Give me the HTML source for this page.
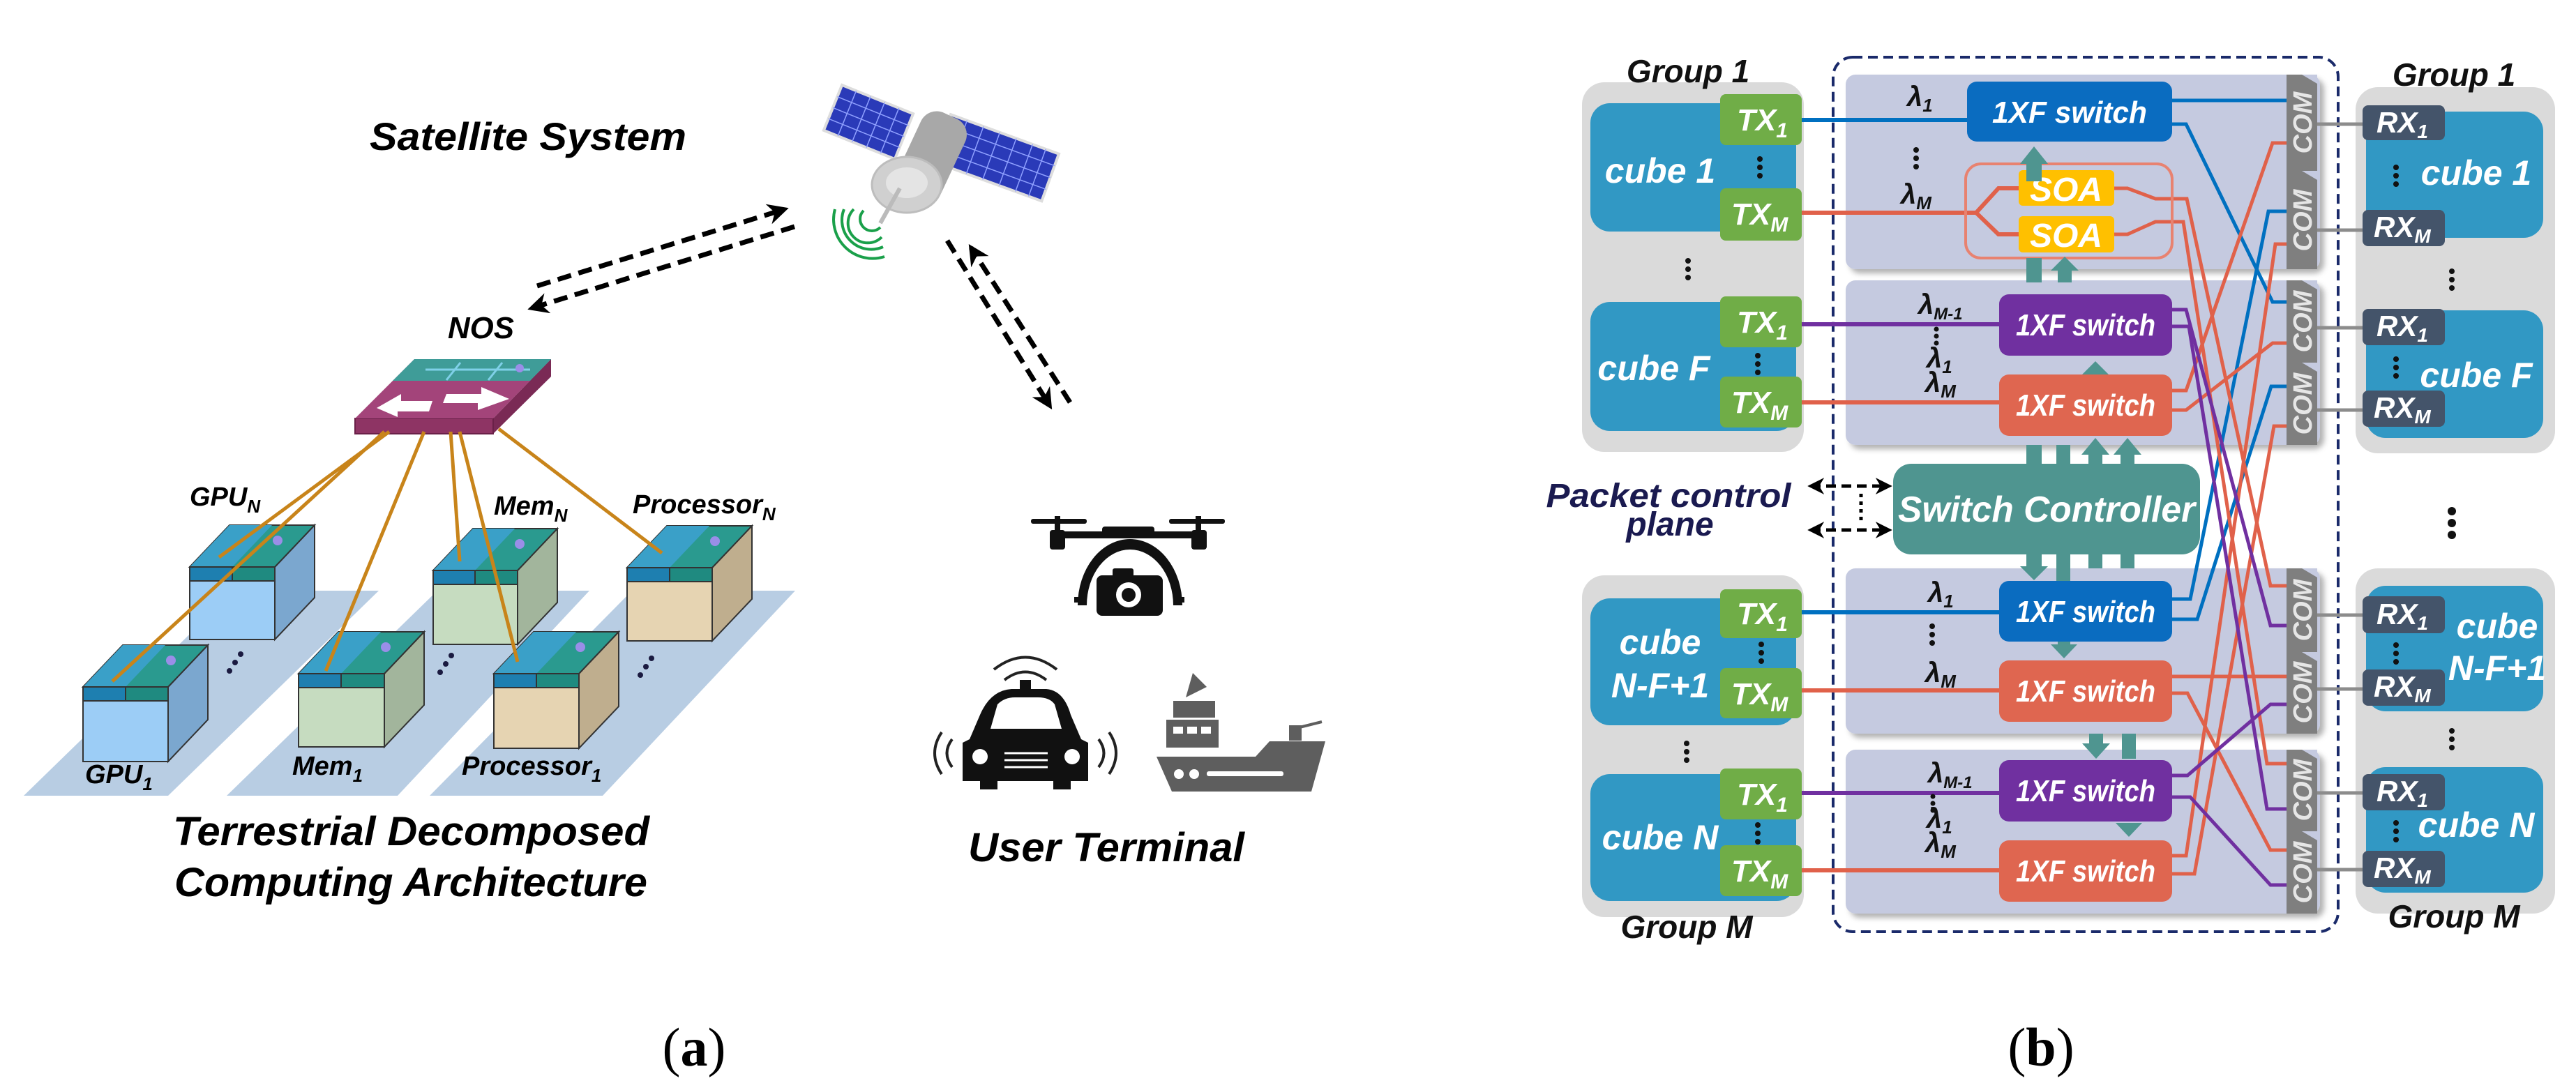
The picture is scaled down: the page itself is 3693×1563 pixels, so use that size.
<!DOCTYPE html>
<html><head><meta charset="utf-8"><style>
html,body{margin:0;padding:0;background:#fff}
svg{display:block}
text{font-family:"Liberation Sans",sans-serif;font-weight:bold;font-style:italic}
</style></head><body>
<svg width="3693" height="1563" viewBox="0 0 3693 1563" xmlns="http://www.w3.org/2000/svg">
<defs>
<marker id="ah" markerWidth="8" markerHeight="8" refX="6" refY="4" orient="auto" markerUnits="userSpaceOnUse" viewBox="0 0 8 8"><path d="M0,0 L8,4 L0,8 L2,4 Z" fill="#000"/></marker>
<marker id="ahb" viewBox="0 0 10 10" refX="8" refY="5" markerWidth="30" markerHeight="30" orient="auto" markerUnits="userSpaceOnUse"><path d="M0,0 L10,5 L0,10 L3,5 Z" fill="#000"/></marker>
<marker id="ahs" viewBox="0 0 10 10" refX="8" refY="5" markerWidth="24" markerHeight="24" orient="auto-start-reverse" markerUnits="userSpaceOnUse"><path d="M0,0 L10,5 L0,10 L3,5 Z" fill="#000"/></marker>
<filter id="sh" x="-5%" y="-5%" width="115%" height="115%"><feDropShadow dx="6" dy="6" stdDeviation="4" flood-color="#000" flood-opacity="0.3"/></filter>
</defs>

<!-- ================= (a) ================= -->
<text x="530" y="215" font-size="56" textLength="454" lengthAdjust="spacingAndGlyphs">Satellite System</text>

<!-- satellite -->
<g>
<rect x="1190" y="140" width="110" height="70" fill="#2a3ab8" stroke="#ddd" stroke-width="4" transform="rotate(22 1245 175)"/>
<g stroke="#8fa0ff" stroke-width="1.5" transform="rotate(22 1245 175)">
<line x1="1212" y1="140" x2="1212" y2="210"/><line x1="1234" y1="140" x2="1234" y2="210"/><line x1="1256" y1="140" x2="1256" y2="210"/><line x1="1278" y1="140" x2="1278" y2="210"/>
<line x1="1190" y1="158" x2="1300" y2="158"/><line x1="1190" y1="175" x2="1300" y2="175"/><line x1="1190" y1="192" x2="1300" y2="192"/></g>
<rect x="1345" y="190" width="165" height="72" fill="#2a3ab8" stroke="#ddd" stroke-width="4" transform="rotate(20 1427 228)"/>
<g stroke="#8fa0ff" stroke-width="1.5" transform="rotate(20 1427 228)">
<line x1="1370" y1="190" x2="1370" y2="262"/><line x1="1395" y1="190" x2="1395" y2="262"/><line x1="1420" y1="190" x2="1420" y2="262"/><line x1="1445" y1="190" x2="1445" y2="262"/><line x1="1470" y1="190" x2="1470" y2="262"/><line x1="1490" y1="190" x2="1490" y2="262"/>
<line x1="1345" y1="208" x2="1510" y2="208"/><line x1="1345" y1="226" x2="1510" y2="226"/><line x1="1345" y1="244" x2="1510" y2="244"/></g>
<rect x="1300" y="160" width="70" height="130" rx="25" fill="#a8a8a8" transform="rotate(25 1335 225)"/>
<ellipse cx="1300" cy="265" rx="50" ry="40" fill="#d0d0d0" stroke="#bdbdbd" stroke-width="3"/>
<ellipse cx="1300" cy="262" rx="30" ry="22" fill="#e4e4e4"/>
<line x1="1290" y1="270" x2="1262" y2="320" stroke="#bbb" stroke-width="6"/>
<g fill="none" stroke="#1aa04a" stroke-width="4">
<path d="M1238,302 A14,14 0 0 0 1262,326"/>
<path d="M1224,300 A28,28 0 0 0 1264,340"/>
<path d="M1210,300 A42,42 0 0 0 1266,354"/>
<path d="M1197,300 A56,56 0 0 0 1268,368"/>
</g>
</g>

<!-- dashed arrows -->
<g stroke="#000" stroke-width="7" stroke-dasharray="20 11" fill="none">
<line x1="770" y1="410" x2="1125" y2="300" marker-end="url(#ahb)"/>
<line x1="1139" y1="325" x2="762" y2="442" marker-end="url(#ahb)"/>
<line x1="1358" y1="345" x2="1505" y2="582" marker-end="url(#ahb)"/>
<line x1="1534" y1="577" x2="1392" y2="355" marker-end="url(#ahb)"/>
</g>

<text x="642" y="485" font-size="44" textLength="95" lengthAdjust="spacingAndGlyphs">NOS</text>

<!-- NOS switch -->
<polygon points="707,600 790,515 790,540 707,622" fill="#7a2a55"/>
<rect x="509" y="600" width="198" height="22" fill="#8e3464" stroke="#6a2048" stroke-width="2"/>
<polygon points="594,515 790,515 707,600 509,600" fill="#a3447a"/>
<polygon points="594,515 790,515 760,546 563,546" fill="#3f9c98"/>
<g stroke="#7fd0e8" stroke-width="3" fill="none"><line x1="610" y1="530" x2="760" y2="530"/><line x1="660" y1="520" x2="640" y2="545"/><line x1="720" y1="520" x2="700" y2="545"/></g>
<circle cx="745" cy="528" r="6" fill="#9a8ee8"/>
<polygon points="540,585 575,565 575,575 620,575 615,590 570,590 570,598" fill="#fff"/>
<polygon points="730,572 690,555 690,565 640,565 635,578 685,578 685,588" fill="#fff"/>

<!-- floor strips -->
<g fill="#b8cde3">
<polygon points="34,1141 241,1141 543,847 336,847"/>
<polygon points="325,1141 570,1141 845,847 627,847"/>
<polygon points="616,1141 864,1141 1140,847 906,847"/>
</g>

<!-- blocks -->
<g id="blocks" stroke="#333" stroke-width="2">
<!-- GPU_N -->
<polygon points="394,813 451,753 451,857 394,917" fill="#7ba7cf"/>
<polygon points="272,813 329,753 451,753 394,813" fill="#2a9a8f"/>
<polygon points="272,813 329,753 390,753 333,813" fill="#3aa0c8" stroke="none"/>
<rect x="272" y="813" width="61" height="20" fill="#1e7fb0"/><rect x="333" y="813" width="61" height="20" fill="#1f8a80"/>
<rect x="272" y="833" width="122" height="84" fill="#9ccdf6"/>
<!-- MemN -->
<polygon points="742,818 799,758 799,864 742,924" fill="#a2b59c"/>
<polygon points="621,818 678,758 799,758 742,818" fill="#2a9a8f"/>
<polygon points="621,818 678,758 738,758 681,818" fill="#3aa0c8" stroke="none"/>
<rect x="621" y="818" width="60" height="20" fill="#1e7fb0"/><rect x="681" y="818" width="61" height="20" fill="#1f8a80"/>
<rect x="621" y="838" width="121" height="86" fill="#c6dcc0"/>
<!-- ProcN -->
<polygon points="1021,814 1078,754 1078,859 1021,919" fill="#bfae8e"/>
<polygon points="899,814 956,754 1078,754 1021,814" fill="#2a9a8f"/>
<polygon points="899,814 956,754 1017,754 960,814" fill="#3aa0c8" stroke="none"/>
<rect x="899" y="814" width="61" height="20" fill="#1e7fb0"/><rect x="960" y="814" width="61" height="20" fill="#1f8a80"/>
<rect x="899" y="834" width="122" height="85" fill="#e6d4b2"/>
<!-- GPU1 -->
<polygon points="241,985 298,925 298,1032 241,1092" fill="#7ba7cf"/>
<polygon points="119,985 176,925 298,925 241,985" fill="#2a9a8f"/>
<polygon points="119,985 176,925 237,925 180,985" fill="#3aa0c8" stroke="none"/>
<rect x="119" y="985" width="61" height="20" fill="#1e7fb0"/><rect x="180" y="985" width="61" height="20" fill="#1f8a80"/>
<rect x="119" y="1005" width="122" height="87" fill="#9ccdf6"/>
<!-- Mem1 -->
<polygon points="551,966 608,906 608,1011 551,1071" fill="#a2b59c"/>
<polygon points="428,966 485,906 608,906 551,966" fill="#2a9a8f"/>
<polygon points="428,966 485,906 546,906 489,966" fill="#3aa0c8" stroke="none"/>
<rect x="428" y="966" width="61" height="20" fill="#1e7fb0"/><rect x="489" y="966" width="62" height="20" fill="#1f8a80"/>
<rect x="428" y="986" width="123" height="85" fill="#c6dcc0"/>
<!-- Proc1 -->
<polygon points="830,966 887,906 887,1013 830,1073" fill="#bfae8e"/>
<polygon points="708,966 765,906 887,906 830,966" fill="#2a9a8f"/>
<polygon points="708,966 765,906 826,906 769,966" fill="#3aa0c8" stroke="none"/>
<rect x="708" y="966" width="61" height="20" fill="#1e7fb0"/><rect x="769" y="966" width="61" height="20" fill="#1f8a80"/>
<rect x="708" y="986" width="122" height="87" fill="#e6d4b2"/>
</g>
<!-- chip details on tops -->
<g fill="#9a8ee8">
<circle cx="398" cy="775" r="7"/><circle cx="745" cy="780" r="7"/><circle cx="1025" cy="776" r="7"/>
<circle cx="245" cy="947" r="7"/><circle cx="553" cy="928" r="7"/><circle cx="832" cy="928" r="7"/>
</g>

<!-- dots -->
<g fill="#1a1a40">
<circle cx="345" cy="938" r="4"/><circle cx="337" cy="950" r="4"/><circle cx="329" cy="962" r="4"/>
<circle cx="647" cy="940" r="4"/><circle cx="639" cy="952" r="4"/><circle cx="631" cy="964" r="4"/>
<circle cx="934" cy="944" r="4"/><circle cx="926" cy="956" r="4"/><circle cx="918" cy="968" r="4"/>
</g>

<!-- orange lines -->
<g stroke="#c8841a" stroke-width="5">
<line x1="551" y1="619" x2="161" y2="977"/>
<line x1="558" y1="619" x2="314" y2="799"/>
<line x1="608" y1="619" x2="467" y2="962"/>
<line x1="646" y1="619" x2="659" y2="805"/>
<line x1="659" y1="619" x2="742" y2="949"/>
<line x1="715" y1="615" x2="949" y2="793"/>
</g>

<!-- block labels -->
<g font-size="38">
<text x="272" y="725">GPU<tspan font-size="26" dy="10">N</tspan></text>
<text x="708" y="738">Mem<tspan font-size="26" dy="10">N</tspan></text>
<text x="907" y="736">Processor<tspan font-size="26" dy="10">N</tspan></text>
<text x="122" y="1123">GPU<tspan font-size="26" dy="10">1</tspan></text>
<text x="419" y="1111">Mem<tspan font-size="26" dy="10">1</tspan></text>
<text x="662" y="1111">Processor<tspan font-size="26" dy="10">1</tspan></text>
</g>

<text x="248" y="1212" font-size="58" textLength="683" lengthAdjust="spacingAndGlyphs">Terrestrial Decomposed</text>
<text x="250" y="1285" font-size="58" textLength="678" lengthAdjust="spacingAndGlyphs">Computing Architecture</text>

<!-- drone -->
<g fill="#111">
<rect x="1478" y="744" width="80" height="7" rx="3"/><rect x="1676" y="744" width="80" height="7" rx="3"/>
<rect x="1512" y="740" width="8" height="25"/><rect x="1714" y="740" width="8" height="25"/>
<rect x="1505" y="760" width="22" height="28" rx="4"/><rect x="1708" y="760" width="22" height="28" rx="4"/>
<rect x="1525" y="762" width="185" height="10"/>
<rect x="1580" y="755" width="75" height="14" rx="4"/>
<path d="M1545,868 A75,95 0 0 1 1695,868 L1682,868 A62,80 0 0 0 1558,868 Z"/>
<rect x="1540" y="856" width="16" height="8"/><rect x="1682" y="856" width="16" height="8"/>
<rect x="1572" y="825" width="95" height="58" rx="8"/><rect x="1595" y="815" width="30" height="14" rx="3"/>
</g>
<circle cx="1618" cy="853" r="18" fill="#fff"/><circle cx="1618" cy="853" r="10" fill="#111"/>

<!-- car -->
<g fill="#111">
<path d="M1390,1060 L1405,1025 Q1420,990 1450,988 L1500,988 Q1525,990 1535,1025 L1550,1060 L1560,1065 L1560,1120 L1535,1120 L1535,1132 L1510,1132 L1510,1120 L1430,1120 L1430,1132 L1405,1132 L1405,1120 L1380,1120 L1380,1065 Z"/>
<rect x="1462" y="975" width="16" height="14"/>
</g>
<path d="M1420,1045 L1430,1010 Q1440,1000 1455,1000 L1488,1000 Q1505,1000 1512,1010 L1522,1045 Z" fill="#fff"/>
<circle cx="1405" cy="1085" r="11" fill="#fff"/><circle cx="1537" cy="1085" r="11" fill="#fff"/>
<g stroke="#fff" stroke-width="3"><line x1="1440" y1="1080" x2="1502" y2="1080"/><line x1="1440" y1="1090" x2="1502" y2="1090"/><line x1="1440" y1="1100" x2="1502" y2="1100"/></g>
<g fill="none" stroke="#222" stroke-width="4">
<path d="M1425,960 Q1470,925 1515,960"/><path d="M1440,975 Q1470,952 1500,975"/>
<path d="M1365,1060 Q1350,1080 1365,1100"/><path d="M1350,1050 Q1330,1080 1350,1110"/>
<path d="M1575,1060 Q1590,1080 1575,1100"/><path d="M1590,1050 Q1610,1080 1590,1110"/>
</g>

<!-- ship -->
<g fill="#5e5e5e">
<path d="M1658,1085 L1800,1085 L1820,1063 L1900,1063 L1880,1135 L1680,1135 Z"/>
<rect x="1672" y="1032" width="75" height="40"/>
<rect x="1682" y="1005" width="60" height="24"/>
<path d="M1700,1000 L1710,965 L1730,985 Z"/>
<rect x="1848" y="1040" width="18" height="22"/>
<line x1="1855" y1="1045" x2="1895" y2="1035" stroke="#5e5e5e" stroke-width="4"/>
</g>
<g fill="#fff"><rect x="1682" y="1042" width="14" height="10"/><rect x="1702" y="1042" width="14" height="10"/><rect x="1722" y="1042" width="14" height="10"/>
<circle cx="1690" cy="1110" r="7"/><circle cx="1712" cy="1110" r="7"/><rect x="1730" y="1106" width="110" height="7" rx="3"/></g>

<text x="1388" y="1235" font-size="58" textLength="396" lengthAdjust="spacingAndGlyphs">User Terminal</text>

<text x="995" y="1528" font-size="78" text-anchor="middle" style="font-family:'Liberation Serif',serif;font-style:normal;font-weight:normal">(<tspan font-weight="bold">a</tspan>)</text>

<!-- ================= (b) ================= -->
<!-- left groups -->
<rect x="2268" y="118" width="318" height="530" rx="32" fill="#dadada"/>
<rect x="2268" y="825" width="318" height="490" rx="32" fill="#dadada"/>
<!-- right groups -->
<rect x="3377" y="125" width="286" height="525" rx="32" fill="#dadada"/>
<rect x="3377" y="815" width="286" height="495" rx="32" fill="#dadada"/>

<g fill="#3198c4">
<rect x="2280" y="148" width="295" height="184" rx="28"/>
<rect x="2280" y="433" width="295" height="185" rx="28"/>
<rect x="2280" y="858" width="295" height="182" rx="28"/>
<rect x="2280" y="1110" width="295" height="182" rx="28"/>
<rect x="3392" y="160" width="254" height="181" rx="28"/>
<rect x="3392" y="445" width="254" height="183" rx="28"/>
<rect x="3392" y="840" width="254" height="180" rx="28"/>
<rect x="3392" y="1100" width="254" height="180" rx="28"/>
</g>

<!-- group labels -->
<g fill="#111" font-size="46">
<text x="2420" y="118" text-anchor="middle">Group 1</text>
<text x="2418" y="1345" text-anchor="middle">Group M</text>
<text x="3518" y="123" text-anchor="middle">Group 1</text>
<text x="3518" y="1330" text-anchor="middle">Group M</text>
</g>
<g fill="#1a1a50" font-size="48">
<text x="2392" y="727" text-anchor="middle" textLength="351" lengthAdjust="spacingAndGlyphs">Packet control</text>
<text x="2394" y="768" text-anchor="middle">plane</text>
</g>

<!-- inner panels -->
<g fill="#c5cae0" filter="url(#sh)">
<rect x="2646" y="107" width="680" height="279" rx="14"/>
<rect x="2646" y="402" width="680" height="236" rx="14"/>
<rect x="2646" y="815" width="680" height="237" rx="14"/>
<rect x="2646" y="1075" width="680" height="235" rx="14"/>
</g>

<!-- dashed outer box -->
<rect x="2628" y="82" width="724" height="1254" rx="28" fill="none" stroke="#1a2a6a" stroke-width="4" stroke-dasharray="14 8"/>

<!-- TX -> switch lines -->
<g stroke-width="6" fill="none">
<line x1="2583" y1="172" x2="2820" y2="172" stroke="#0070c0"/>
<path d="M2583,305 L2833,305 L2865,270 L2894,270 M2833,305 L2865,336 L2894,336" stroke="#e0614a"/>
<line x1="2583" y1="465" x2="2866" y2="465" stroke="#7030a0"/>
<line x1="2583" y1="577" x2="2866" y2="577" stroke="#e0614a"/>
<line x1="2583" y1="878" x2="2866" y2="878" stroke="#0070c0"/>
<line x1="2583" y1="990" x2="2866" y2="990" stroke="#e0614a"/>
<line x1="2583" y1="1137" x2="2866" y2="1137" stroke="#7030a0"/>
<line x1="2583" y1="1248" x2="2866" y2="1248" stroke="#e0614a"/>
</g>

<!-- crossing output lines -->
<g stroke-width="5" fill="none">
<path d="M3114,144 L3278,144" stroke="#0070c0"/>
<path d="M3114,178 L3134,178 L3258,433 L3278,433" stroke="#0070c0"/>
<path d="M3114,859 L3140,859 L3252,303 L3278,303" stroke="#0070c0"/>
<path d="M3114,888 L3150,888 L3256,554 L3278,554" stroke="#0070c0"/>
<path d="M3031,270 L3050,270 L3090,285 L3135,285 L3255,840 L3278,840" stroke="#e0614a"/>
<path d="M3031,336 L3050,336 L3090,318 L3130,318 L3250,1095 L3278,1095" stroke="#e0614a"/>
<path d="M3114,560 L3134,560 L3258,205 L3278,205" stroke="#e0614a"/>
<path d="M3114,588 L3134,588 L3258,492 L3278,492" stroke="#e0614a"/>
<path d="M3114,970 L3278,970" stroke="#e0614a"/>
<path d="M3114,994 L3136,994 L3255,1219 L3278,1219" stroke="#e0614a"/>
<path d="M3114,1227 L3134,1227 L3262,350 L3278,350" stroke="#e0614a"/>
<path d="M3114,1253 L3146,1253 L3260,611 L3278,611" stroke="#e0614a"/>
<path d="M3114,444 L3134,444 L3255,897 L3278,897" stroke="#7030a0"/>
<path d="M3114,468 L3138,468 L3250,1160 L3278,1160" stroke="#7030a0"/>
<path d="M3114,1112 L3136,1112 L3255,1010 L3278,1010" stroke="#7030a0"/>
<path d="M3114,1143 L3140,1143 L3255,1269 L3278,1269" stroke="#7030a0"/>
</g>

<!-- SOA box -->
<rect x="2818" y="235" width="296" height="135" rx="22" fill="none" stroke="#e88270" stroke-width="4"/>
<rect x="2894" y="244" width="137" height="51" rx="6" fill="#ffc000"/>
<rect x="2894" y="310" width="137" height="52" rx="6" fill="#ffc000"/>
<g fill="#fff" font-size="48" text-anchor="middle">
<text x="2962" y="288">SOA</text><text x="2962" y="354">SOA</text>
</g>

<!-- teal control arrows -->
<g fill="#4f9590">
<rect x="2905" y="232" width="22" height="28"/><polygon points="2896,235 2936,235 2916,210"/>
<rect x="2905" y="370" width="22" height="35"/>
<rect x="2950" y="385" width="20" height="20"/><polygon points="2940,388 2980,388 2960,368"/>
<rect x="2994" y="536" width="20" height="10"/><polygon points="2984,538 3024,538 3004,518"/>
<rect x="2905" y="638" width="22" height="30"/><rect x="2948" y="638" width="20" height="30"/>
<rect x="2994" y="648" width="20" height="20"/><polygon points="2984,652 3024,652 3004,628"/>
<rect x="3040" y="648" width="20" height="20"/><polygon points="3030,652 3070,652 3050,628"/>
<rect x="2905" y="795" width="22" height="20"/><polygon points="2896,812 2936,812 2916,832"/>
<rect x="2948" y="795" width="20" height="38"/>
<rect x="2994" y="795" width="20" height="20"/><rect x="3040" y="795" width="20" height="20"/>
<polygon points="2940,924 2978,924 2959,944"/><rect x="2950" y="918" width="18" height="8"/>
<rect x="2995" y="1052" width="20" height="16"/><polygon points="2985,1066 3025,1066 3005,1088"/>
<rect x="3042" y="1052" width="20" height="36"/>
<polygon points="3033,1180 3071,1180 3052,1200"/>
</g>

<!-- switch controller -->
<rect x="2714" y="665" width="440" height="130" rx="26" fill="#4f9590"/>
<text x="2934" y="748" font-size="52" fill="#fff" text-anchor="middle" textLength="426" lengthAdjust="spacingAndGlyphs">Switch Controller</text>

<!-- switches -->
<g>
<rect x="2820" y="117" width="294" height="86" rx="14" fill="#0a6cc0"/>
<rect x="2866" y="422" width="248" height="88" rx="14" fill="#7030a0"/>
<rect x="2866" y="537" width="248" height="88" rx="14" fill="#df6650"/>
<rect x="2866" y="833" width="248" height="87" rx="14" fill="#0a6cc0"/>
<rect x="2866" y="947" width="248" height="88" rx="14" fill="#df6650"/>
<rect x="2866" y="1090" width="248" height="88" rx="14" fill="#7030a0"/>
<rect x="2866" y="1205" width="248" height="88" rx="14" fill="#df6650"/>
</g>
<g fill="#fff" font-size="44" text-anchor="middle">
<text x="2967" y="176" textLength="222" lengthAdjust="spacingAndGlyphs">1XF switch</text>
<text x="2990" y="481" textLength="200" lengthAdjust="spacingAndGlyphs">1XF switch</text>
<text x="2990" y="596" textLength="200" lengthAdjust="spacingAndGlyphs">1XF switch</text>
<text x="2990" y="892" textLength="200" lengthAdjust="spacingAndGlyphs">1XF switch</text>
<text x="2990" y="1006" textLength="200" lengthAdjust="spacingAndGlyphs">1XF switch</text>
<text x="2990" y="1149" textLength="200" lengthAdjust="spacingAndGlyphs">1XF switch</text>
<text x="2990" y="1264" textLength="200" lengthAdjust="spacingAndGlyphs">1XF switch</text>
</g>

<!-- packet control arrows -->
<g stroke="#000" stroke-width="5" stroke-dasharray="14 8" fill="none">
<line x1="2596" y1="697" x2="2708" y2="697" marker-start="url(#ahs)" marker-end="url(#ahs)"/>
<line x1="2596" y1="760" x2="2708" y2="760" marker-start="url(#ahs)" marker-end="url(#ahs)"/>
<line x1="2668" y1="708" x2="2668" y2="750" stroke-dasharray="5 6"/>
</g>

<!-- lambda labels -->
<g fill="#111" font-size="40">
<text x="2734" y="152">λ<tspan font-size="26" dy="8">1</tspan></text>
<text x="2725" y="292">λ<tspan font-size="26" dy="8">M</tspan></text>
<text x="2750" y="450">λ<tspan font-size="24" dy="8">M-1</tspan></text>
<text x="2762" y="527">λ<tspan font-size="26" dy="8">1</tspan></text>
<text x="2760" y="562">λ<tspan font-size="26" dy="8">M</tspan></text>
<text x="2764" y="863">λ<tspan font-size="26" dy="8">1</tspan></text>
<text x="2760" y="978">λ<tspan font-size="26" dy="8">M</tspan></text>
<text x="2764" y="1122">λ<tspan font-size="24" dy="8">M-1</tspan></text>
<text x="2762" y="1187">λ<tspan font-size="26" dy="8">1</tspan></text>
<text x="2760" y="1222">λ<tspan font-size="26" dy="8">M</tspan></text>
</g>
<g fill="#111">
<circle cx="2747" cy="215" r="4"/><circle cx="2747" cy="227" r="4"/><circle cx="2747" cy="239" r="4"/>
<circle cx="2776" cy="472" r="3.5"/><circle cx="2776" cy="482" r="3.5"/><circle cx="2776" cy="492" r="3.5"/>
<circle cx="2770" cy="898" r="4"/><circle cx="2770" cy="910" r="4"/><circle cx="2770" cy="922" r="4"/>
<circle cx="2771" cy="1142" r="3.5"/><circle cx="2771" cy="1152" r="3.5"/><circle cx="2771" cy="1162" r="3.5"/>
</g>

<!-- COM strips -->
<g>
<rect x="3278" y="107" width="44" height="279" fill="#7f7f7f"/>
<rect x="3278" y="402" width="44" height="236" fill="#7f7f7f"/>
<rect x="3278" y="815" width="44" height="237" fill="#7f7f7f"/>
<rect x="3278" y="1075" width="44" height="235" fill="#7f7f7f"/>
<g fill="#c5cae0">
<polygon points="3300,107 3322,107 3322,120"/><polygon points="3300,245 3322,245 3322,258"/>
<polygon points="3300,402 3322,402 3322,415"/><polygon points="3300,520 3322,520 3322,533"/>
<polygon points="3300,815 3322,815 3322,828"/><polygon points="3300,935 3322,935 3322,948"/>
<polygon points="3300,1075 3322,1075 3322,1088"/><polygon points="3300,1192 3322,1192 3322,1205"/>
</g>
<g fill="#e6e6e6" font-size="38" text-anchor="middle">
<text transform="translate(3314 176) rotate(-90)">COM</text>
<text transform="translate(3314 316) rotate(-90)">COM</text>
<text transform="translate(3314 461) rotate(-90)">COM</text>
<text transform="translate(3314 579) rotate(-90)">COM</text>
<text transform="translate(3314 875) rotate(-90)">COM</text>
<text transform="translate(3314 993) rotate(-90)">COM</text>
<text transform="translate(3314 1133) rotate(-90)">COM</text>
<text transform="translate(3314 1251) rotate(-90)">COM</text>
</g>
</g>

<!-- COM to RX -->
<g stroke="#8c8c8c" stroke-width="5">
<line x1="3322" y1="178" x2="3387" y2="178"/><line x1="3322" y1="330" x2="3387" y2="330"/>
<line x1="3322" y1="470" x2="3387" y2="470"/><line x1="3322" y1="588" x2="3387" y2="588"/>
<line x1="3322" y1="882" x2="3387" y2="882"/><line x1="3322" y1="988" x2="3387" y2="988"/>
<line x1="3322" y1="1137" x2="3387" y2="1137"/><line x1="3322" y1="1247" x2="3387" y2="1247"/>
</g>

<!-- TX boxes -->
<g fill="#70ad47">
<rect x="2466" y="135" width="117" height="73" rx="8"/><rect x="2466" y="270" width="117" height="75" rx="8"/>
<rect x="2466" y="425" width="117" height="73" rx="8"/><rect x="2466" y="540" width="117" height="73" rx="8"/>
<rect x="2466" y="845" width="117" height="70" rx="8"/><rect x="2466" y="958" width="117" height="72" rx="8"/>
<rect x="2466" y="1102" width="117" height="73" rx="8"/><rect x="2466" y="1212" width="117" height="73" rx="8"/>
</g>
<g fill="#fff" font-size="44">
<text x="2490" y="187">TX<tspan font-size="30" dy="10">1</tspan></text>
<text x="2482" y="322">TX<tspan font-size="30" dy="10">M</tspan></text>
<text x="2490" y="477">TX<tspan font-size="30" dy="10">1</tspan></text>
<text x="2482" y="592">TX<tspan font-size="30" dy="10">M</tspan></text>
<text x="2490" y="895">TX<tspan font-size="30" dy="10">1</tspan></text>
<text x="2482" y="1010">TX<tspan font-size="30" dy="10">M</tspan></text>
<text x="2490" y="1154">TX<tspan font-size="30" dy="10">1</tspan></text>
<text x="2482" y="1264">TX<tspan font-size="30" dy="10">M</tspan></text>
</g>

<!-- RX boxes -->
<g fill="#44546a">
<rect x="3387" y="151" width="118" height="50" rx="8"/><rect x="3387" y="301" width="118" height="52" rx="8"/>
<rect x="3387" y="443" width="118" height="52" rx="8"/><rect x="3387" y="560" width="118" height="52" rx="8"/>
<rect x="3387" y="855" width="118" height="53" rx="8"/><rect x="3387" y="960" width="118" height="52" rx="8"/>
<rect x="3387" y="1110" width="118" height="52" rx="8"/><rect x="3387" y="1220" width="118" height="52" rx="8"/>
</g>
<g fill="#fff" font-size="42">
<text x="3407" y="190">RX<tspan font-size="28" dy="8">1</tspan></text>
<text x="3403" y="340">RX<tspan font-size="28" dy="8">M</tspan></text>
<text x="3407" y="482">RX<tspan font-size="28" dy="8">1</tspan></text>
<text x="3403" y="599">RX<tspan font-size="28" dy="8">M</tspan></text>
<text x="3407" y="895">RX<tspan font-size="28" dy="8">1</tspan></text>
<text x="3403" y="999">RX<tspan font-size="28" dy="8">M</tspan></text>
<text x="3407" y="1149">RX<tspan font-size="28" dy="8">1</tspan></text>
<text x="3403" y="1259">RX<tspan font-size="28" dy="8">M</tspan></text>
</g>

<!-- cube labels -->
<g fill="#fff" font-size="50">
<text x="2380" y="262" text-anchor="middle">cube 1</text>
<text x="2371" y="545" text-anchor="middle">cube F</text>
<text x="2380" y="938" text-anchor="middle">cube</text>
<text x="2380" y="1000" text-anchor="middle">N-F+1</text>
<text x="2380" y="1218" text-anchor="middle">cube N</text>
<text x="3550" y="265" text-anchor="middle">cube 1</text>
<text x="3550" y="555" text-anchor="middle">cube F</text>
<text x="3580" y="915" text-anchor="middle">cube</text>
<text x="3580" y="975" text-anchor="middle">N-F+1</text>
<text x="3550" y="1200" text-anchor="middle">cube N</text>
</g>

<!-- vertical dots -->
<g fill="#111">
<circle cx="2523" cy="228" r="4"/><circle cx="2523" cy="240" r="4"/><circle cx="2523" cy="252" r="4"/>
<circle cx="2520" cy="510" r="4"/><circle cx="2520" cy="522" r="4"/><circle cx="2520" cy="534" r="4"/>
<circle cx="2525" cy="924" r="4"/><circle cx="2525" cy="936" r="4"/><circle cx="2525" cy="948" r="4"/>
<circle cx="2520" cy="1183" r="4"/><circle cx="2520" cy="1195" r="4"/><circle cx="2520" cy="1207" r="4"/>
<circle cx="2420" cy="374" r="4"/><circle cx="2420" cy="386" r="4"/><circle cx="2420" cy="398" r="4"/>
<circle cx="2418" cy="1066" r="4"/><circle cx="2418" cy="1078" r="4"/><circle cx="2418" cy="1090" r="4"/>
<circle cx="3435" cy="240" r="4"/><circle cx="3435" cy="252" r="4"/><circle cx="3435" cy="264" r="4"/>
<circle cx="3435" cy="515" r="4"/><circle cx="3435" cy="527" r="4"/><circle cx="3435" cy="539" r="4"/>
<circle cx="3435" cy="925" r="4"/><circle cx="3435" cy="937" r="4"/><circle cx="3435" cy="949" r="4"/>
<circle cx="3435" cy="1180" r="4"/><circle cx="3435" cy="1192" r="4"/><circle cx="3435" cy="1204" r="4"/>
<circle cx="3515" cy="389" r="4"/><circle cx="3515" cy="401" r="4"/><circle cx="3515" cy="413" r="4"/>
<circle cx="3515" cy="733" r="6"/><circle cx="3515" cy="750" r="6"/><circle cx="3515" cy="767" r="6"/>
<circle cx="3515" cy="1048" r="4"/><circle cx="3515" cy="1060" r="4"/><circle cx="3515" cy="1072" r="4"/>
</g>

<text x="2926" y="1528" font-size="78" text-anchor="middle" style="font-family:'Liberation Serif',serif;font-style:normal;font-weight:normal">(<tspan font-weight="bold">b</tspan>)</text>
</svg>
</body></html>
